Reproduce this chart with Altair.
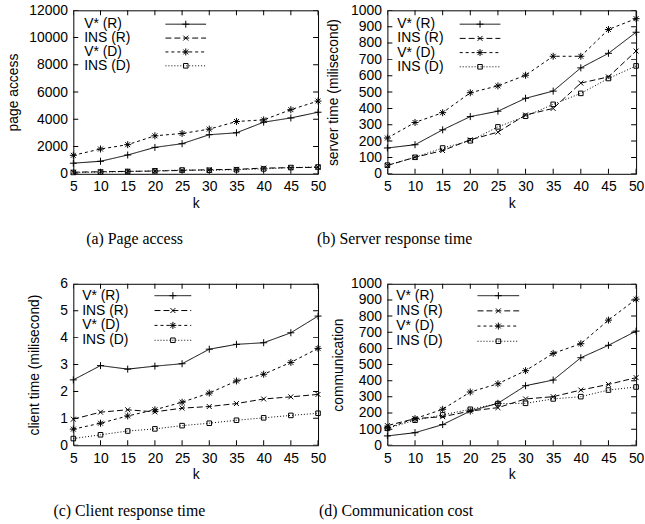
import altair as alt
import pandas as pd

K = [5, 10, 15, 20, 25, 30, 35, 40, 45, 50]
SERIES = ["V* (R)", "INS (R)", "V* (D)", "INS (D)"]

# (a) page access
PAGE_VR = [780, 920, 1380, 1940, 2210, 2870, 3010, 3790, 4100, 4520]
PAGE_IR = [120, 150, 180, 200, 250, 300, 330, 420, 450, 480]
PAGE_VD = [1360, 1820, 2140, 2790, 2960, 3280, 3840, 3960, 4710, 5340]
PAGE_ID = [100, 130, 170, 220, 280, 260, 300, 360, 460, 500]

# (b) server response time
SRV_VR = [158, 178, 269, 350, 383, 462, 506, 648, 737, 866]
SRV_IR = [51, 101, 142, 208, 255, 360, 400, 555, 593, 751]
SRV_VD = [219, 314, 374, 496, 538, 603, 719, 719, 883, 949]
SRV_ID = [53, 101, 158, 202, 287, 352, 425, 492, 583, 660]

# (c) client response time
CLI_VR = [2.43, 2.96, 2.83, 2.94, 3.03, 3.57, 3.75, 3.81, 4.18, 4.80]
CLI_IR = [0.97, 1.23, 1.32, 1.24, 1.38, 1.44, 1.55, 1.72, 1.80, 1.89]
CLI_VD = [0.60, 0.82, 1.09, 1.32, 1.60, 1.94, 2.39, 2.64, 3.08, 3.60]
CLI_ID = [0.25, 0.39, 0.53, 0.61, 0.73, 0.82, 0.93, 1.02, 1.11, 1.19]

# (d) communication cost
COM_VR = [58, 78, 128, 212, 260, 369, 404, 542, 619, 707]
COM_IR = [122, 165, 177, 212, 233, 287, 301, 342, 377, 419]
COM_VD = [107, 165, 223, 330, 381, 462, 569, 629, 775, 905]
COM_ID = [105, 155, 188, 223, 258, 260, 287, 301, 342, 361]

TICKS_A = [0, 2000, 4000, 6000, 8000, 10000, 12000]
TICKS_B = [0, 100, 200, 300, 400, 500, 600, 700, 800, 900, 1000]
TICKS_C = [0, 1, 2, 3, 4, 5, 6]
TICKS_D = [0, 100, 200, 300, 400, 500, 600, 700, 800, 900, 1000]

DASHES = [[1, 0], [6, 3], [3, 3], [1, 2]]
SHAPES = [
    "M-1,0L1,0M0,-1L0,1",
    "M-0.7,-0.7L0.7,0.7M-0.7,0.7L0.7,-0.7",
    "M-1,0L1,0M0,-1L0,1M-0.7,-0.7L0.7,0.7M-0.7,0.7L0.7,-0.7",
    "M-0.65,-0.65L0.65,-0.65L0.65,0.65L-0.65,0.65Z",
]

FONT = "Liberation Sans"
SERIF = "Liberation Serif"


def to_long(vals):
    rows = []
    for s, arr in zip(SERIES, vals):
        for k, v in zip(K, arr):
            rows.append({"series": s, "k": k, "value": v})
    return pd.DataFrame(rows)


def panel(vals, yticks, ytitle, caption, w, h, title_x, cap_dx,
          leg_tx, leg_x0, leg_x1, leg_y0, leg_y1):
    df = to_long(vals)
    xsc = alt.Scale(domain=[5, 50], nice=False, zero=False)
    ysc = alt.Scale(domain=[yticks[0], yticks[-1]], nice=False, zero=True)
    dash = alt.StrokeDash("series:N", scale=alt.Scale(domain=SERIES, range=DASHES), legend=None)
    shape = alt.Shape("series:N", scale=alt.Scale(domain=SERIES, range=SHAPES), legend=None)
    xax = alt.Axis(values=K, title="k", labelFlush=False, labelOverlap=False,
                   labelPadding=6, titlePadding=3, format="d")
    yax = alt.Axis(values=yticks, title=ytitle, labelPadding=6, labelOverlap=False,
                   titleX=-title_x, titleY=h / 2, titleBaseline="bottom", format="d")
    X = alt.X("k:Q", scale=xsc, axis=xax)
    Y = alt.Y("value:Q", scale=ysc, axis=yax)
    lines = alt.Chart(df).mark_line(color="black", strokeWidth=1).encode(
        x=X, y=Y, strokeDash=dash)
    pts = alt.Chart(df).mark_point(color="black", filled=False, size=50,
                                   strokeWidth=1, opacity=1).encode(
        x=X, y=Y, shape=shape)
    xt = pd.DataFrame({"k": K})
    ytd = pd.DataFrame({"value": yticks})
    layers = [lines, pts]
    for yy in (0, h):
        layers.append(
            alt.Chart(xt).mark_tick(orient="vertical", color="black", size=10,
                                    thickness=1, clip=True, opacity=1).encode(
                x=X, y=alt.value(yy)))
    for xx in (0, w):
        layers.append(
            alt.Chart(ytd).mark_tick(orient="horizontal", color="black", size=10,
                                     thickness=1, clip=True, opacity=1).encode(
                y=Y, x=alt.value(xx)))

    n = len(SERIES)
    for i, s in enumerate(SERIES):
        yy = leg_y0 + (leg_y1 - leg_y0) * i / (n - 1)
        one = pd.DataFrame({"series": [s]})
        layers.append(alt.Chart(one).mark_text(
            align="left", baseline="middle", font=FONT, fontSize=14, color="black").encode(
            x=alt.value(leg_tx), y=alt.value(yy), text="series:N"))
        layers.append(alt.Chart(one).mark_rule(color="black", strokeWidth=1).encode(
            x=alt.value(leg_x0), x2=alt.value(leg_x1), y=alt.value(yy), strokeDash=dash))
        layers.append(alt.Chart(one).mark_point(
            color="black", filled=False, size=50, strokeWidth=1, opacity=1).encode(
            x=alt.value((leg_x0 + leg_x1) / 2), y=alt.value(yy), shape=shape))

    return alt.layer(*layers).properties(
        width=w, height=h,
        title=alt.TitleParams(caption, orient="bottom", anchor="start", frame="group",
                              dx=cap_dx, offset=21, font=SERIF, fontSize=16,
                              fontWeight="normal", color="black"),
    )


pa = panel([PAGE_VR, PAGE_IR, PAGE_VD, PAGE_ID], TICKS_A, "page access",
           "(a)  Page access", 247, 165, 53, 13, 11, 93, 134, 14, 56)
pb = panel([SRV_VR, SRV_IR, SRV_VD, SRV_ID], TICKS_B, "server time (milisecond)",
           "(b)  Server response time", 251, 165, 47, -71, 10, 73, 114, 14, 57)
pc = panel([CLI_VR, CLI_IR, CLI_VD, CLI_ID], TICKS_C, "client time (milisecond)",
           "(c)  Client response time", 247, 163, 32, -20, 9, 82, 119, 12, 57)
pd_ = panel([COM_VR, COM_IR, COM_VD, COM_ID], TICKS_D, "communication",
            "(d)  Communication cost", 251, 163, 42, -69, 9, 91, 133, 12, 58)

chart = alt.concat(pa, pb, pc, pd_, columns=2,
                   spacing={"row": 111, "column": 70}, bounds="flush").properties(
    padding={"left": 6, "top": 0, "right": 0, "bottom": 0},
    background="white",
).configure_view(stroke="black", strokeWidth=1).configure_axis(
    labelFont=FONT, labelFontSize=14, labelColor="black",
    titleFont=FONT, titleFontSize=14, titleFontWeight="normal", titleColor="black",
    domain=False, ticks=False, grid=False,
)

chart.save("out.html", embed_options={"renderer": "svg", "actions": False})
